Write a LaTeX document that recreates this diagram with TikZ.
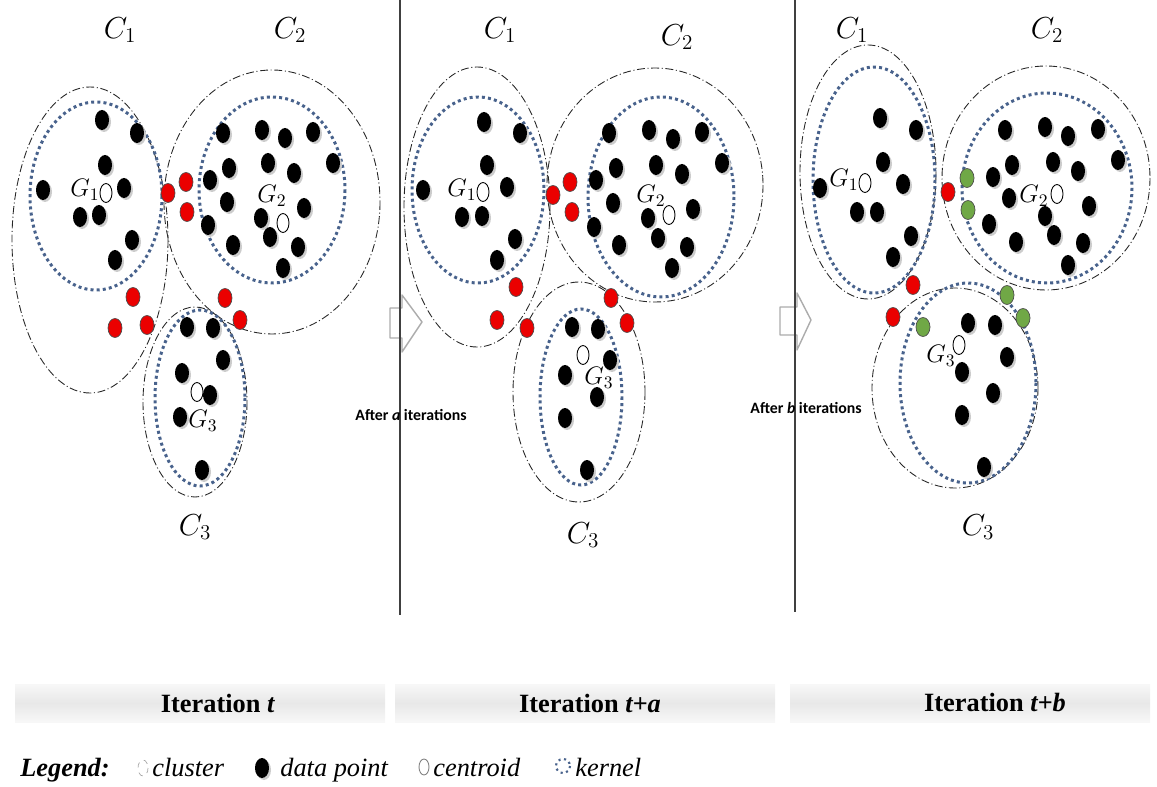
\documentclass[tikz,border=0pt]{standalone}
\usepackage{fontspec}
\setmainfont{Liberation Serif}
\newfontfamily\calibfont{Carlito}
\usepackage{xcolor}
\usepackage{tikz}
\usetikzlibrary{positioning}

\definecolor{kernelblue}{RGB}{72,98,140}
\definecolor{ptred}{RGB}{235,0,0}
\definecolor{ptgreen}{RGB}{112,168,70}

\begin{document}
\begin{tikzpicture}[
    x=0.02cm, y=-0.02cm,
    clusterline/.style={draw=black!85, line width=0.5pt, dash pattern=on 4.5pt off 1.5pt on 0.6pt off 1.5pt},
    kernelring/.style={draw=kernelblue, line width=1.7pt, dash pattern=on 1.7pt off 1.8pt},
    datapt/.style={fill=black},
    ptshadow/.style={fill=black!20},
    redpt/.style={fill=ptred, draw=black!70, line width=0.4pt},
    greenpt/.style={fill=ptgreen, draw=black!70, line width=0.4pt},
    centroid/.style={fill=white, draw=black, line width=0.5pt},
    clabel/.style={font=\fontsize{17}{19}\selectfont, inner sep=0pt},
    glabel/.style={font=\fontsize{14}{16}\selectfont, inner sep=0pt},
    afterlabel/.style={font=\calibfont\fontsize{9}{11}\selectfont\bfseries, inner sep=0pt},
    itbar/.style={top color=gray!6, bottom color=gray!6, middle color=gray!18, draw=none},
    ittext/.style={font=\fontsize{15}{18}\selectfont\bfseries, inner sep=0pt},
    legtext/.style={font=\fontsize{15}{18}\selectfont\itshape, inner sep=0pt, anchor=base west},
    blockarrow/.style={draw=gray!65, fill=white, line width=0.8pt, line join=round},
    divider/.style={draw=black!75, line width=0.6pt}
]
\useasboundingbox (0,0) rectangle (1157,787);

% panel dividers and arrows
\draw[blockarrow] (390,308) -- (402,308) -- (402,295) -- (422,322) -- (402,352) -- (402,338) -- (390,338) -- cycle;
\draw[blockarrow] (780,307) -- (797,307) -- (797,293) -- (811,320) -- (797,350) -- (797,335) -- (780,335) -- cycle;
\draw[divider] (400,0) -- (400,615);
\draw[divider] (795,0) -- (795,612);

% ---- iteration t
\draw[clusterline] (90,240) ellipse [x radius=78, y radius=153];
\draw[clusterline] (272,202) ellipse [x radius=108, y radius=132];
\draw[clusterline] (195,402) ellipse [x radius=52, y radius=95];
\draw[kernelring] (96,196) ellipse [x radius=66, y radius=94];
\draw[kernelring] (272,190) ellipse [x radius=73, y radius=93];
\draw[kernelring] (200,398) ellipse [x radius=45, y radius=88];

% ---- iteration t+a
\draw[clusterline] (477,207) ellipse [x radius=73, y radius=140];
\draw[clusterline] (655,185) ellipse [x radius=108, y radius=117];
\draw[clusterline] (579,392) ellipse [x radius=66, y radius=110];
\draw[kernelring] (478,190) ellipse [x radius=66, y radius=93];
\draw[kernelring] (661,197) ellipse [x radius=73, y radius=100];
\draw[kernelring] (581,397) ellipse [x radius=41, y radius=88];

% ---- iteration t+b
\draw[clusterline] (868,172) ellipse [x radius=68, y radius=127];
\draw[clusterline] (1046,178) ellipse [x radius=104, y radius=112];
\draw[clusterline] (955,388) ellipse [x radius=83, y radius=100];
\draw[kernelring] (874,180) ellipse [x radius=61, y radius=113];
\draw[kernelring] (1047,188) ellipse [x radius=85, y radius=95];
\draw[kernelring] (968,383) ellipse [x radius=68, y radius=100];

% data points
\foreach \x/\y in {102/120, 137/133, 105/165, 43/190, 124/188, 80/217, 99/215, 132/240, 115/260,
    223/133, 262/130, 285/138, 313/132, 333/163, 229/168, 268/163, 294/173, 210/180, 227/202,
    304/208, 261/218, 208/225, 270/237, 298/247, 233/245, 283/268,
    187/327, 213/328, 223/360, 182/373, 210/395, 180/417, 202/470,
    484/122, 520/133, 487/165, 423/190, 507/187, 462/217, 482/216, 515/239, 497/260,
    609/133, 649/130, 673/139, 702/132, 722/163, 616/168, 656/165, 682/174, 596/180, 613/203,
    693/209, 648/218, 594/227, 658/238, 687/247, 619/245, 672/268,
    572/327, 598/329, 610/360, 565/375, 597/397, 565/418, 587/470,
    880/118, 916/130, 883/162, 820/188, 903/184, 857/212, 877/212, 911/236, 893/257,
    1005/130, 1045/127, 1068/136, 1098/129, 1118/160, 1012/165, 1053/162, 1078/171, 993/177, 1009/198,
    1089/206, 1045/216, 989/224, 1054/235, 1083/243, 1016/242, 1068/265,
    968/323, 995/325, 1007/357, 962/372, 993/393, 962/415, 984/467}
{
    \fill[ptshadow] (\x+2,\y+2) ellipse [x radius=7, y radius=10];
    \fill[datapt] (\x,\y) ellipse [x radius=7, y radius=10];
}

% points changing cluster
\foreach \x/\y in {168/193, 186/182, 187/212, 133/297, 115/328, 147/325, 225/298, 240/320,
    553/195, 570/182, 572/212, 516/287, 497/320, 527/328, 611/298, 627/323,
    948/192, 913/285, 893/317}
    \draw[redpt] (\x,\y) ellipse [x radius=7, y radius=9.5];
\foreach \x/\y in {923/327, 967/178, 968/210, 1007/295, 1023/318}
    \draw[greenpt] (\x,\y) ellipse [x radius=7, y radius=9.5];

% centroids
\foreach \x/\y in {106/193, 283/223, 197/392, 483/192, 669/215, 583/355, 865/183, 1057/194, 959/345}
    \draw[centroid] (\x,\y) ellipse [x radius=6, y radius=9.5];

% labels
\node[clabel] (c1a) at (120,30) {$C_1$};
\node[clabel] (c2a) at (290,30) {$C_2$};
\node[clabel] (c3a) at (195,527) {$C_3$};
\node[clabel] (c1b) at (500,30) {$C_1$};
\node[clabel] (c2b) at (677,37) {$C_2$};
\node[clabel] (c3b) at (583,535) {$C_3$};
\node[clabel] (c1c) at (852,30) {$C_1$};
\node[clabel] (c2c) at (1047,30) {$C_2$};
\node[clabel] (c3c) at (978,527) {$C_3$};

\node[glabel] (g1a) at (85,190) {$G_1$};
\node[glabel] (g2a) at (272,196) {$G_2$};
\node[glabel] (g3a) at (203,421) {$G_3$};
\node[glabel] (g1b) at (462,190) {$G_1$};
\node[glabel] (g2b) at (651,196) {$G_2$};
\node[glabel] (g3b) at (599,378) {$G_3$};
\node[glabel] (g1c) at (844,180) {$G_1$};
\node[glabel] (g2c) at (1034,196) {$G_2$};
\node[glabel] (g3c) at (941,356) {$G_3$};

\node[afterlabel] (aftera) at (411,415) {After \textit{a} iterations};
\node[afterlabel] (afterb) at (806,408) {After \textit{b} iterations};

% iteration bars
\shade[itbar] (15,684) rectangle (385,722);
\shade[itbar] (395,684) rectangle (775,722);
\shade[itbar] (790,684) rectangle (1150,722);
\node[ittext] (itt) at (218,703) {Iteration \textit{t}};
\node[ittext] (itta) at (590,703) {Iteration \textit{t+a}};
\node[ittext] (ittb) at (995,703) {Iteration \textit{t+b}};

% legend
\node[legtext, font=\fontsize{15}{18}\selectfont\bfseries\itshape] (leg) at (20,776) {Legend:};
\draw[draw=gray!70, line width=0.4pt, dashed] (143,768) ellipse [x radius=5, y radius=8];
\node[legtext] (legcl) at (152,776) {cluster};
\fill[ptshadow] (264,770) ellipse [x radius=7, y radius=10];
\fill[datapt] (262,768) ellipse [x radius=7, y radius=10];
\node[legtext] (legdp) at (280,776) {data point};
\draw[centroid, draw=gray] (424,767) ellipse [x radius=5, y radius=8];
\node[legtext] (legce) at (433,776) {centroid};
\draw[kernelring, line width=1.2pt, dash pattern=on 1.2pt off 2pt] (563,766) circle [radius=7];
\node[legtext] (legke) at (575,776) {kernel};
\end{tikzpicture}
\end{document}
